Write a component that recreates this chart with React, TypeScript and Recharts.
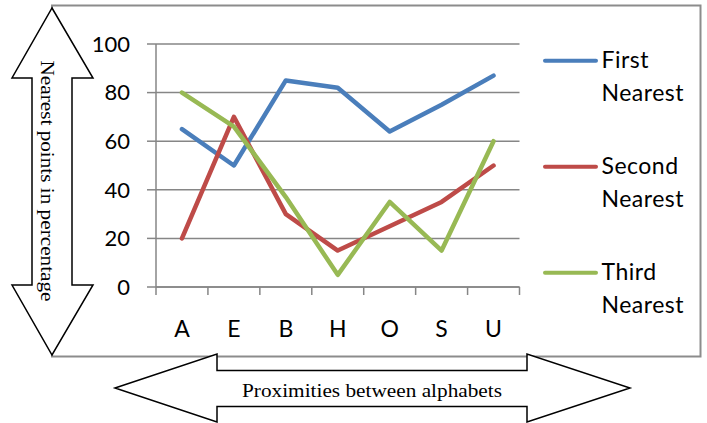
import React from 'react';
import { LineChart, Line, XAxis, YAxis, CartesianGrid, Legend } from 'recharts';

const categories = ['A', 'E', 'B', 'H', 'O', 'S', 'U'];
const firstNearest = [65, 50, 85, 82, 64, 75, 87];
const secondNearest = [20, 70, 30, 15, 25, 35, 50];
const thirdNearest = [80, 66, 37, 5, 35, 15, 60];
const yTicks = [0, 20, 40, 60, 80, 100];

const seriesNames = ['First\nNearest', 'Second\nNearest', 'Third\nNearest'];
const seriesColors = ['#4A7EBB', '#BE4B48', '#98B954'];

const yTitle = 'Nearest points in percentage';
const xTitle = 'Proximities between alphabets';

const data = categories.map((c, i) => ({
  cat: c,
  first: firstNearest[i],
  second: secondNearest[i],
  third: thirdNearest[i],
}));

const W = 707;
const H = 423;
const SANS = 'Lato, Carlito, Calibri, sans-serif';
const SERIF = '"Liberation Serif", "Times New Roman", serif';
const GRID = '#868686';

const XTick = (props: any) => {
  const { x, y, payload, index } = props;
  const off = payload && typeof payload.offset === 'number' ? payload.offset : 0;
  const last = index === categories.length - 1;
  return (
    <g>
      <line x1={x - off} y1={y} x2={x - off} y2={y + 8} stroke={GRID} strokeWidth={1.5} />
      {last && <line x1={x + off} y1={y} x2={x + off} y2={y + 8} stroke={GRID} strokeWidth={1.5} />}
      <text x={x} y={y + 50} textAnchor="middle" fontFamily={SANS} fontSize={23} fill="#000">
        {payload.value}
      </text>
    </g>
  );
};

const LegendContent = (props: any) => {
  const payload = props.payload || [];
  return (
    <svg width={W} height={H} style={{ position: 'absolute', left: 0, top: 0, overflow: 'visible', pointerEvents: 'none' }}>
      {payload.map((p: any, i: number) => {
        const base = 68.3 + i * 106;
        const lines = String(p.value).split('\n');
        return (
          <g key={i}>
            <line x1={545} x2={596} y1={base - 7.5} y2={base - 7.5} stroke={p.color} strokeWidth={4} strokeLinecap="round" />
            {lines.map((t, j) => (
              <text key={j} x={601.5} y={base + j * 33} fontFamily={SANS} fontSize={23} letterSpacing={0.5} fill="#000">
                {t}
              </text>
            ))}
          </g>
        );
      })}
    </svg>
  );
};

export default function App() {
  return (
    <div style={{ position: 'fixed', left: 0, top: 0, width: W, height: H, background: '#fff' }}>
      <LineChart
        width={W}
        height={H}
        data={data}
        margin={{ top: 44, right: 187.5, bottom: 0, left: 0 }}
      >
        <CartesianGrid horizontal vertical={false} stroke={GRID} strokeWidth={1.5} />
        <XAxis
          dataKey="cat"
          scale="band"
          height={136}
          tickSize={0}
          tickMargin={0}
          axisLine={{ stroke: GRID, strokeWidth: 1.5 }}
          tickLine={false}
          tick={<XTick />}
          interval={0}
        />
        <YAxis
          width={156}
          domain={[0, 100]}
          ticks={yTicks}
          tickSize={9}
          tickMargin={17}
          axisLine={{ stroke: GRID, strokeWidth: 1.5 }}
          tickLine={{ stroke: GRID, strokeWidth: 1.5 }}
          tick={{ fontFamily: SANS, fontSize: 22, fill: '#000' }}
          interval={0}
        />
        <Legend
          content={<LegendContent />}
          wrapperStyle={{ position: 'absolute', left: 0, top: 0, width: 0, height: 0 }}
        />
        <Line dataKey="first" name={seriesNames[0]} stroke={seriesColors[0]} strokeWidth={4.5} dot={false} isAnimationActive={false} strokeLinecap="round" strokeLinejoin="round" />
        <Line dataKey="second" name={seriesNames[1]} stroke={seriesColors[1]} strokeWidth={4.5} dot={false} isAnimationActive={false} strokeLinecap="round" strokeLinejoin="round" />
        <Line dataKey="third" name={seriesNames[2]} stroke={seriesColors[2]} strokeWidth={4.5} dot={false} isAnimationActive={false} strokeLinecap="round" strokeLinejoin="round" />
      </LineChart>
      <svg width={W} height={H} style={{ position: 'absolute', left: 0, top: 0, pointerEvents: 'none' }}>
        <rect x={52} y={5.5} width={648.5} height={351} fill="none" stroke="#8C8C8C" strokeWidth={2} />
        <polygon
          points="52,8 93,78 72,78 72,285 93,285 52,355 12,285 32,285 32,78 12,78"
          fill="#fff"
          stroke="#000"
          strokeWidth={1.5}
        />
        <text
          transform="translate(41,181) rotate(90)"
          textAnchor="middle"
          fontFamily={SERIF}
          fontSize={18}
          textLength={241}
          lengthAdjust="spacingAndGlyphs"
          fill="#000"
        >
          {yTitle}
        </text>
        <polygon
          points="115,388 217,354 217,370.5 527,370.5 527,354 630,388 527,422 527,406.5 217,406.5 217,422"
          fill="#fff"
          stroke="#000"
          strokeWidth={1.5}
        />
        <text
          x={372}
          y={396.5}
          textAnchor="middle"
          fontFamily={SERIF}
          fontSize={18}
          textLength={260}
          lengthAdjust="spacingAndGlyphs"
          fill="#000"
        >
          {xTitle}
        </text>
      </svg>
    </div>
  );
}
